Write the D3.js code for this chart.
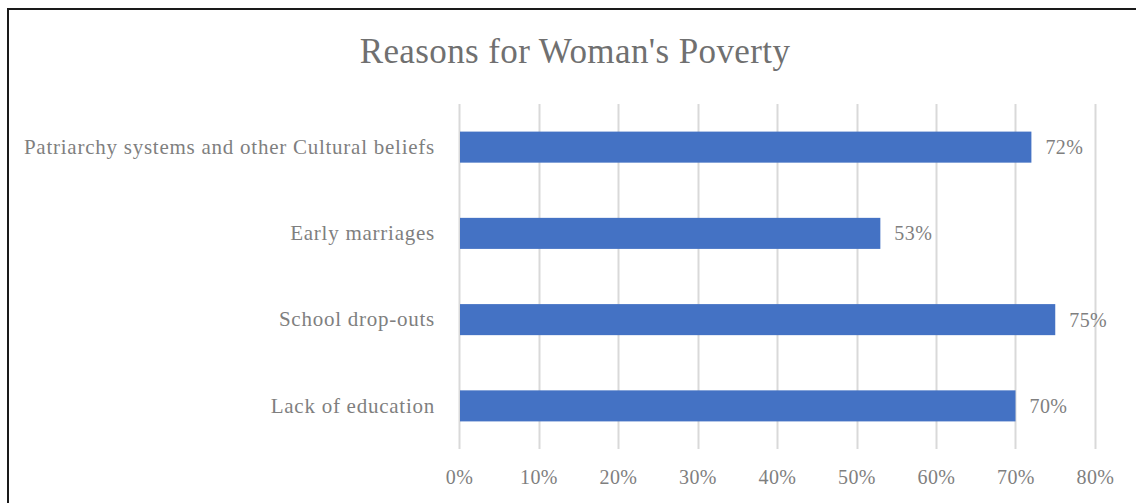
<!DOCTYPE html>
<html>
<head>
<meta charset="utf-8">
<script src="https://cdn.jsdelivr.net/npm/d3@7"></script>
<style>
  html, body { margin: 0; padding: 0; background: #fff; }
  svg { display: block; }
  text { font-family: "Liberation Serif", "DejaVu Serif", serif; }
</style>
</head>
<body>
<svg id="chart" width="1136" height="503"></svg>
<script>
// Survey results: reasons for women's poverty
const categories = [
  "Patriarchy systems and other Cultural beliefs",
  "Early marriages",
  "School drop-outs",
  "Lack of education"
];
const shares = [0.72, 0.53, 0.75, 0.70];
const tickValues = [0, 0.1, 0.2, 0.3, 0.4, 0.5, 0.6, 0.7, 0.8];
const chartTitle = "Reasons for Woman's Poverty";

const svg = d3.select("#chart");
const W = 1136, H = 503;

// Frame of the chart area
svg.append("rect")
  .attr("x", 8).attr("y", 9)
  .attr("width", W + 20).attr("height", H + 20)
  .attr("fill", "#fff")
  .attr("stroke", "#1a1a1a")
  .attr("stroke-width", 2);

const plot = { left: 459, right: 1095, top: 104, bottom: 449 };

const x = d3.scaleLinear().domain([0, 0.8]).range([plot.left, plot.right]);
const y = d3.scaleBand().domain(categories).range([plot.top, plot.bottom]).paddingInner(0.64).paddingOuter(0.32);

// Title
svg.append("text")
  .attr("x", 575).attr("y", 63)
  .attr("text-anchor", "middle")
  .attr("fill", "#707070")
  .attr("font-size", 35)
  .attr("letter-spacing", 0.4)
  .text(chartTitle);

// Vertical gridlines
svg.append("g")
  .selectAll("line")
  .data(tickValues)
  .join("line")
  .attr("x1", d => Math.round(x(d)) + 0.5)
  .attr("x2", d => Math.round(x(d)) + 0.5)
  .attr("y1", plot.top)
  .attr("y2", plot.bottom)
  .attr("stroke", "#d9d9d9")
  .attr("stroke-width", 2);

// X axis tick labels
const xAxis = d3.axisBottom(x)
  .tickValues(tickValues)
  .tickFormat(d3.format(".0%"))
  .tickSize(0)
  .tickPadding(0);
const gx = svg.append("g")
  .attr("transform", `translate(0, ${plot.bottom + 28})`)
  .call(xAxis);
gx.select(".domain").remove();
gx.selectAll("text")
  .attr("fill", "#7f7f7f")
  .attr("font-size", 20)
  .attr("letter-spacing", 0.4)
  .attr("font-family", "Liberation Serif, serif")
  .attr("dy", "0.35em")
  .attr("y", 0);

// Category labels
const yAxis = d3.axisLeft(y).tickSize(0).tickPadding(24);
const gy = svg.append("g")
  .attr("transform", `translate(${plot.left}, 0)`)
  .call(yAxis);
gy.select(".domain").remove();
gy.selectAll("text")
  .attr("fill", "#7f7f7f")
  .attr("font-size", 21)
  .attr("letter-spacing", 0.75)
  .attr("font-family", "Liberation Serif, serif");

// Bars
svg.append("g")
  .selectAll("rect")
  .data(categories)
  .join("rect")
  .attr("x", x(0) + 1)
  .attr("y", d => y(d))
  .attr("width", (d, i) => x(shares[i]) - x(0) - 1)
  .attr("height", y.bandwidth())
  .attr("fill", "#4472c4");

// Value labels
svg.append("g")
  .selectAll("text")
  .data(categories)
  .join("text")
  .attr("x", (d, i) => x(shares[i]) + 14)
  .attr("y", d => y(d) + y.bandwidth() / 2)
  .attr("dy", "0.35em")
  .attr("fill", "#7f7f7f")
  .attr("font-size", 20)
  .attr("letter-spacing", 0.4)
  .text((d, i) => d3.format(".0%")(shares[i]));
</script>
</body>
</html>
